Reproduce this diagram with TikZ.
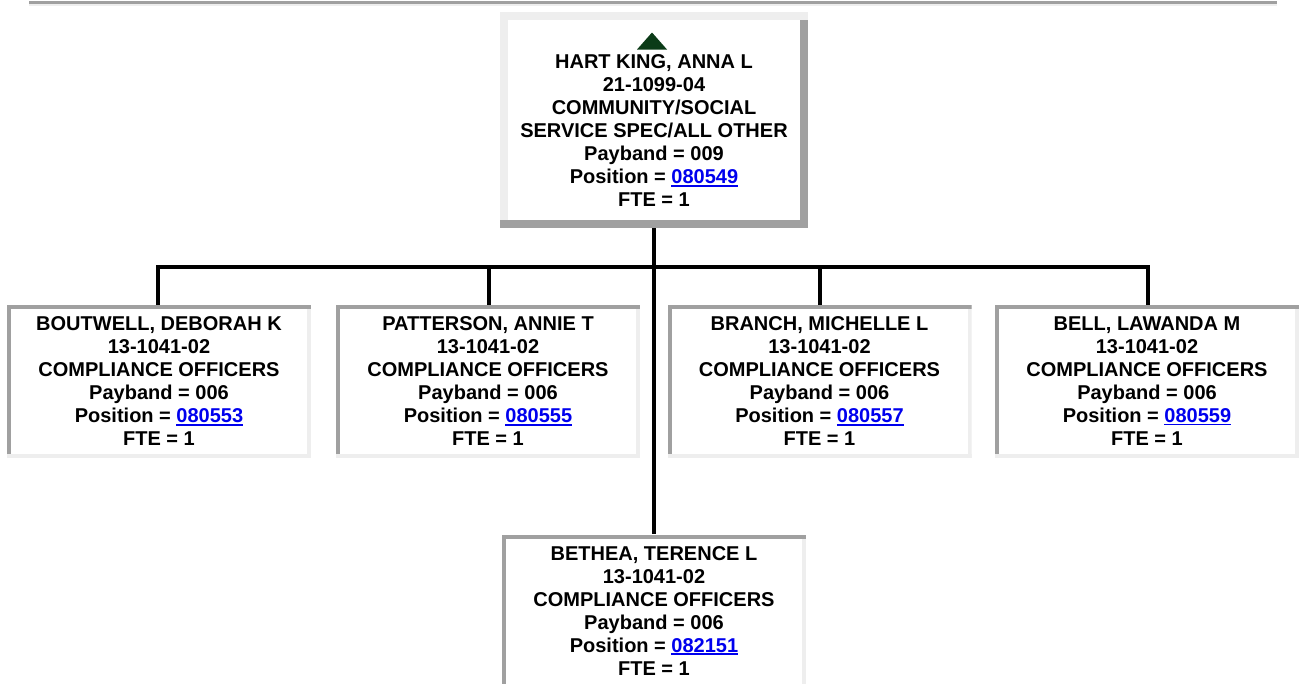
\documentclass[tikz,border=0pt]{standalone}
\usepackage{fontspec}
\setmainfont{Liberation Sans}
\usepackage{xcolor}
\usepackage{tikz}
\usetikzlibrary{calc}
\definecolor{orgDark}{HTML}{A0A0A0}
\definecolor{orgLight}{HTML}{EEEEEE}
\definecolor{orgLink}{HTML}{0000EE}
\definecolor{orgGreen}{HTML}{0B3B17}
\newcommand{\poslink}[1]{\textcolor{orgLink}{\setbox0\hbox{#1}%
  \rlap{\rule[-2.6pt]{\wd0}{1.7pt}}\box0}}
\tikzset{
  orgtext/.style={align=center,inner sep=0pt,
                  font=\fontsize{20}{23}\selectfont\bfseries},
  orgtop/.style={rectangle,fill=white,inner sep=0pt,
                 minimum width=308pt,minimum height=216pt,
                 path picture={
                   \fill[orgLight] (path picture bounding box.north west)
                     rectangle ([yshift=-8pt]path picture bounding box.north east);
                   \fill[orgLight] (path picture bounding box.north west)
                     rectangle ([xshift=8pt]path picture bounding box.south west);
                   \fill[orgDark] (path picture bounding box.south west)
                     rectangle ([yshift=8pt]path picture bounding box.south east);
                   \fill[orgDark] ([yshift=-8pt]path picture bounding box.north east)
                     rectangle ([xshift=-8pt]path picture bounding box.south east);
                 }},
  orgsub/.style={orgtext,rectangle,fill=white,
                 minimum width=304pt,minimum height=153pt,
                 path picture={
                   \fill[orgLight] (path picture bounding box.south west)
                     rectangle ([yshift=4pt]path picture bounding box.south east);
                   \fill[orgLight] (path picture bounding box.north east)
                     rectangle ([xshift=-4pt]path picture bounding box.south east);
                   \fill[orgDark] (path picture bounding box.north west)
                     rectangle ([yshift=-4pt]path picture bounding box.north east);
                   \fill[orgDark] (path picture bounding box.north west)
                     rectangle ([xshift=4pt,yshift=4pt]path picture bounding box.south west);
                 }},
  orglink/.style={line width=4pt,black}
}

\begin{document}
\begin{tikzpicture}[x=1pt,y=1pt]
    \useasboundingbox (0,0) rectangle (1299,-683);
    \fill[white] (0,0) rectangle (1299,-683);
    % rule at the top of the page
    \fill[orgDark] (29,-1) rectangle (1277,-4);
    \fill[orgLight] (29,-4) rectangle (1277,-5.5);

    \node[orgtop] (hart) at (654,-120) {};
    \fill[orgGreen] (637,-49.5) -- (652,-32.5) -- (667,-49.5) -- cycle;
    \node[orgtext] (hartText) at (654,-131)
      {HART KING, ANNA L\\21-1099-04\\COMMUNITY/SOCIAL\\
       SERVICE SPEC/ALL OTHER\\Payband = 009\\
       Position = \poslink{080549}\\FTE = 1};

    \node[orgsub] (boutwell) at (159,-381.5)
      {BOUTWELL, DEBORAH K\\13-1041-02\\COMPLIANCE OFFICERS\\
       Payband = 006\\Position = \poslink{080553}\\FTE = 1};
    \node[orgsub] (patterson) at (488,-381.5)
      {PATTERSON, ANNIE T\\13-1041-02\\COMPLIANCE OFFICERS\\
       Payband = 006\\Position = \poslink{080555}\\FTE = 1};
    \node[orgsub] (branch) at (819.5,-381.5)
      {BRANCH, MICHELLE L\\13-1041-02\\COMPLIANCE OFFICERS\\
       Payband = 006\\Position = \poslink{080557}\\FTE = 1};
    \node[orgsub] (bell) at (1147,-381.5)
      {BELL, LAWANDA M\\13-1041-02\\COMPLIANCE OFFICERS\\
       Payband = 006\\Position = \poslink{080559}\\FTE = 1};
    \node[orgsub] (bethea) at (654,-611)
      {BETHEA, TERENCE L\\13-1041-02\\COMPLIANCE OFFICERS\\
       Payband = 006\\Position = \poslink{082151}\\FTE = 1};

    \coordinate (bus) at (654,-267);
    \draw[orglink] (hart.south) -- (bethea.north);
    \draw[orglink] ([xshift=-1pt]boutwell.north) |- (bus) -| ([xshift=1pt]bell.north);
    \draw[orglink] ([xshift=1pt]patterson.north) |- (bus);
    \draw[orglink] (branch.north) |- (bus);
  \end{tikzpicture}
\end{document}
